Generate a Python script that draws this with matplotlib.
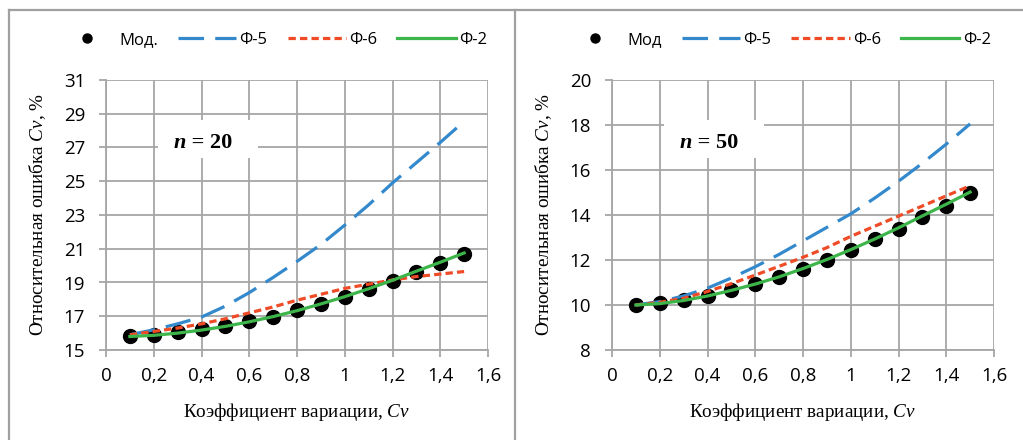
import numpy as np
import matplotlib
matplotlib.use('Agg')
from matplotlib import pyplot as plt
from matplotlib.patches import Rectangle
from matplotlib.lines import Line2D

plt.rcParams['mathtext.fontset'] = 'custom'
plt.rcParams['mathtext.it'] = 'Liberation Serif:italic'
plt.rcParams['mathtext.rm'] = 'Liberation Serif'

# coefficient of variation
cv = [0.1, 0.2, 0.3, 0.4, 0.5, 0.6, 0.7, 0.8, 0.9, 1.0, 1.1, 1.2, 1.3, 1.4, 1.5]

# n = 20
mod_20 = [15.85, 15.9, 16.05, 16.24, 16.4, 16.72, 16.97, 17.37, 17.73, 18.12,
          18.61, 19.09, 19.62, 20.14, 20.69]
f5_20 = [15.9, 16.2, 16.55, 16.95, 17.6, 18.4, 19.3, 20.25, 21.25, 22.4,
         23.6, 24.9, 26.1, 27.3, 28.55]
f6_20 = [15.9, 16.1, 16.3, 16.55, 16.85, 17.2, 17.55, 17.95, 18.3, 18.65,
         18.9, 19.15, 19.35, 19.5, 19.65]
f2_20 = [15.8, 15.87, 16.0, 16.18, 16.4, 16.67, 16.98, 17.33, 17.73, 18.16,
         18.63, 19.13, 19.67, 20.2, 20.75]

# n = 50
mod_50 = [10.0, 10.07, 10.22, 10.4, 10.67, 10.93, 11.23, 11.6, 12.0, 12.44,
          12.92, 13.38, 13.93, 14.4, 14.96]
f5_50 = [10.0, 10.15, 10.4, 10.75, 11.2, 11.7, 12.25, 12.85, 13.45, 14.05,
         14.75, 15.5, 16.3, 17.15, 18.05]
f6_50 = [10.0, 10.12, 10.3, 10.6, 10.95, 11.33, 11.72, 12.12, 12.55, 13.05,
         13.5, 13.95, 14.4, 14.85, 15.3]
f2_50 = [10.0, 10.06, 10.2, 10.4, 10.65, 10.93, 11.25, 11.62, 12.02, 12.46,
         12.93, 13.43, 13.96, 14.48, 15.02]

xticks = [0, 0.2, 0.4, 0.6, 0.8, 1.0, 1.2, 1.4, 1.6]
xticklabels = ['0', '0,2', '0,4', '0,6', '0,8', '1', '1,2', '1,4', '1,6']
yticks_20 = [15, 17, 19, 21, 23, 25, 27, 29, 31]
yticks_50 = [8, 10, 12, 14, 16, 18, 20]

panels = [
    dict(mod=mod_20, f5=f5_20, f6=f6_20, f2=f2_20, yt=yticks_20, n='20',
         modlabel='Мод.', left=106),
    dict(mod=mod_50, f5=f5_50, f6=f6_50, f2=f2_50, yt=yticks_50, n='50',
         modlabel='Мод', left=612),
]

blue = '#3389cc'
red = '#ef4b26'
green = '#3db54a'
gridc = '#a6a6a6'
sans = 'Open Sans'
serif = 'Liberation Serif'

W, H = 1023, 440
fig = plt.figure(figsize=(W / 100, H / 100), dpi=100)

# panel frames (gray lines like the source screenshot)
frame = dict(color='#a0a0a0', lw=1.6, transform=fig.transFigure)
fig.add_artist(Line2D([9 / W, 1], [1 - 10 / H, 1 - 10 / H], **frame))
fig.add_artist(Line2D([9 / W, 9 / W], [0, 1 - 10 / H], **frame))
fig.add_artist(Line2D([515 / W, 515 / W], [0, 1 - 10 / H], **frame))

for p in panels:
    ax = fig.add_axes([p['left'] / W, 90 / H, 382 / W, 270 / H])
    ax.set_xlim(0, 1.6)
    ax.set_ylim(p['yt'][0], p['yt'][-1])
    ax.set_xticks(xticks)
    ax.set_xticklabels(xticklabels)
    ax.set_yticks(p['yt'])
    ax.grid(True, color=gridc, lw=1.3)
    ax.set_axisbelow(True)
    for s in ['top', 'right']:
        ax.spines[s].set_visible(False)
    for s in ['left', 'bottom']:
        ax.spines[s].set_color(gridc)
        ax.spines[s].set_linewidth(1.3)
    ax.tick_params(direction='out', length=5, width=1.3, color=gridc,
                   labelsize=13.5, pad=7)
    ax.tick_params(axis='y', pad=10)
    for lab in ax.get_xticklabels() + ax.get_yticklabels():
        lab.set_fontfamily(sans)

    # white box behind the n label
    ax.add_patch(Rectangle((52 / 382, 1 - 78 / 270), 100 / 382, 38 / 270,
                           transform=ax.transAxes, facecolor='white',
                           edgecolor='none', zorder=1.5))
    t1 = ax.text(68 / 382, 1 - 63 / 270, 'n', transform=ax.transAxes,
                 fontfamily=serif, fontsize=16, fontweight='bold',
                 style='italic', ha='left', va='center', zorder=3)
    ax.annotate(' = ' + p['n'], xy=(1, 0), xycoords=t1, va='bottom',
                fontfamily=serif, fontsize=16, fontweight='bold', zorder=3)

    ax.plot(cv, p['mod'], 'o', color='black', ms=10, zorder=2,
            label=p['modlabel'])
    ax.plot(cv, p['f5'], color=blue, lw=2.3, dashes=(8, 3.5), zorder=3,
            label='Ф-5')
    ax.plot(cv, p['f6'], color=red, lw=2.3, dashes=(2.3, 1.3), zorder=3,
            label='Ф-6')
    ax.plot(cv, p['f2'], color=green, lw=2.3, zorder=4, label='Ф-2')

    ax.set_xlabel(r'Коэффициент вариации, $\mathit{Cv}$', fontfamily=serif,
                  fontsize=13.8, labelpad=12)
    ax.set_ylabel(r'Относительная ошибка $\mathit{Cv}$, %', fontfamily=serif,
                  fontsize=13.8, labelpad=11)

    leg = ax.legend(loc='center', bbox_to_anchor=(0.435, 1 + 40 / 270), ncol=4,
                    frameon=False, handlelength=3.5, handletextpad=0.2,
                    columnspacing=1.2, markerscale=0.65,
                    prop=dict(family=sans, size=12))

fig.savefig('out.png', dpi=100)
